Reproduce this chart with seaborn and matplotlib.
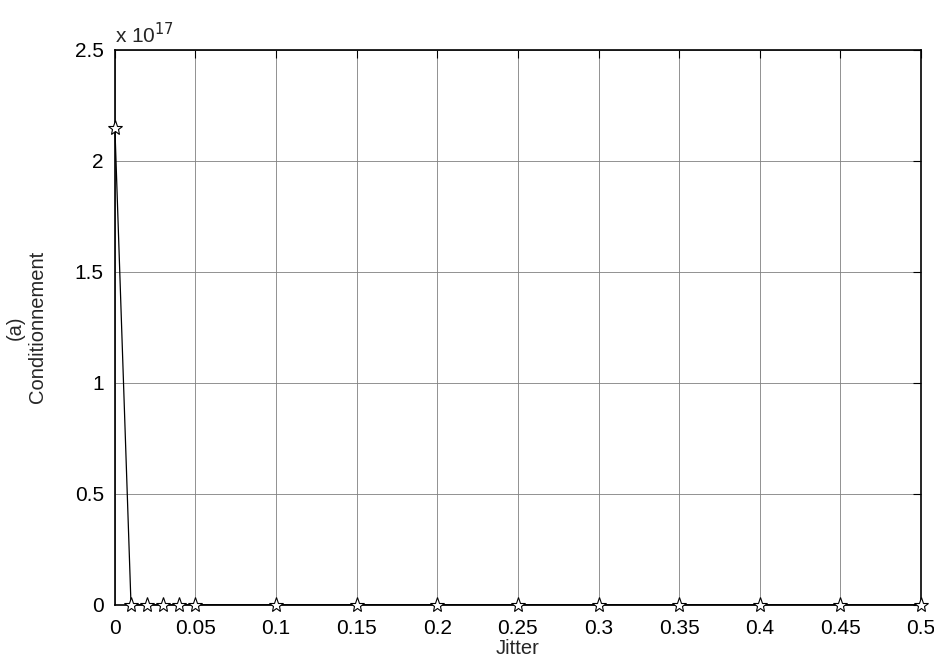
import numpy as np
import seaborn as sns
import matplotlib
matplotlib.use("Agg")
import matplotlib.pyplot as plt
from matplotlib.ticker import FuncFormatter

sns.set_style("white")
plt.rcParams['font.family'] = ['Liberation Sans', 'DejaVu Sans']

# jitter values and conditioning number
jitter = [0, 0.01, 0.02, 0.03, 0.04, 0.05, 0.1, 0.15, 0.2, 0.25, 0.3, 0.35, 0.4, 0.45, 0.5]
cond = [2.15e17, 1e14, 1e14, 1e14, 1e14, 1e14, 1e14, 1e14, 1e14, 1e14, 1e14, 1e14, 1e14, 1e14, 1e14]
xticks = [0, 0.05, 0.1, 0.15, 0.2, 0.25, 0.3, 0.35, 0.4, 0.45, 0.5]
yticks = [0, 0.5e17, 1e17, 1.5e17, 2e17, 2.5e17]

fig = plt.figure(figsize=(9.34, 6.64), dpi=100)
ax = fig.add_axes([0.123, 0.089, 0.863, 0.836])

sns.lineplot(x=jitter, y=cond, ax=ax, color='black', linewidth=0.9,
             marker='*', markersize=11, markerfacecolor='white',
             markeredgecolor='black', markeredgewidth=0.8, clip_on=False,
             zorder=5)

ax.set_xlim(0, 0.5)
ax.set_ylim(0, 2.5e17)
ax.set_xticks(xticks)
ax.set_yticks(yticks)
ax.xaxis.set_major_formatter(FuncFormatter(lambda v, p: f"{v:g}"))
ax.yaxis.set_major_formatter(FuncFormatter(lambda v, p: f"{v/1e17:g}"))
ax.grid(True, color='#808080', linewidth=0.6)
ax.tick_params(direction='in', top=True, right=True, length=6, width=0.8,
               labelsize=15, colors='black')
ax.tick_params(axis='x', pad=10)
ax.tick_params(axis='y', pad=8)
for s in ax.spines.values():
    s.set_visible(True)
    s.set_color('black')
    s.set_linewidth(1.2)

ax.set_xlabel('Jitter', fontsize=14.5, labelpad=1)
ax.set_ylabel('(a)\nConditionnement', fontsize=14.5, labelpad=20)
ax.text(0.0, 1.005, r'x 10$^{17}$', transform=ax.transAxes, fontsize=15,
        ha='left', va='bottom')

fig.savefig('out.png', dpi=100, facecolor='white')
